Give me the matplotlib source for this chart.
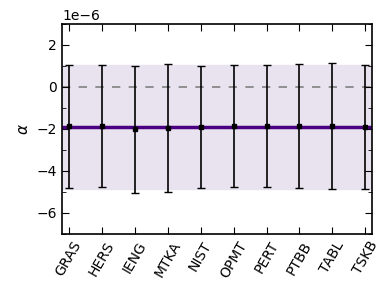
import matplotlib
matplotlib.use("Agg")
import matplotlib.pyplot as plt
from matplotlib.ticker import MultipleLocator
import numpy as np

# labs and fitted alpha values (units of 1e-6)
labs = ["GRAS", "HERS", "IENG", "MTKA", "NIST", "OPMT", "PERT", "PTBB", "TABL", "TSKB"]
alpha = [-1.88, -1.88, -2.02, -1.97, -1.90, -1.87, -1.86, -1.86, -1.86, -1.90]
alpha_err = [2.93, 2.90, 3.02, 3.05, 2.89, 2.90, 2.91, 2.93, 3.00, 2.96]
mean_alpha = -1.91
mean_err = 2.96

scale = 1e-6

fig = plt.figure(figsize=(3.9, 2.91), dpi=100)
ax = fig.add_axes([0.159, 0.196, 0.795, 0.722])

x = np.arange(len(labs))
vals = np.array(alpha) * scale
errs = np.array(alpha_err) * scale

ax.axhspan((mean_alpha - mean_err) * scale, (mean_alpha + mean_err) * scale,
           color="#e9e3f0", zorder=0)
ax.axhline(0, color="grey", ls="--", lw=1.2, dashes=(5, 5), zorder=1)
ax.axhline(mean_alpha * scale, color="#4b0082", lw=2.5, zorder=2)
ax.errorbar(x, vals, yerr=errs, fmt="s", color="black", ms=3.5, capsize=3,
            elinewidth=1.2, capthick=1, zorder=3)

ax.set_xlim(-0.2, 9.2)
ax.set_ylim(-7e-6, 3e-6)
ax.set_xticks(x)
ax.set_xticklabels(labs, rotation=60)
ax.yaxis.set_major_locator(MultipleLocator(2e-6))
ax.yaxis.set_minor_locator(MultipleLocator(1e-6))
ax.tick_params(direction="in", top=True, right=True, labelsize=10, length=5)
ax.tick_params(which="minor", direction="in", right=True, length=3)
ax.set_ylabel(r"$\alpha$", fontsize=11)
for s in ax.spines.values():
    s.set_linewidth(1.2)

fig.savefig("out.png", dpi=100)
